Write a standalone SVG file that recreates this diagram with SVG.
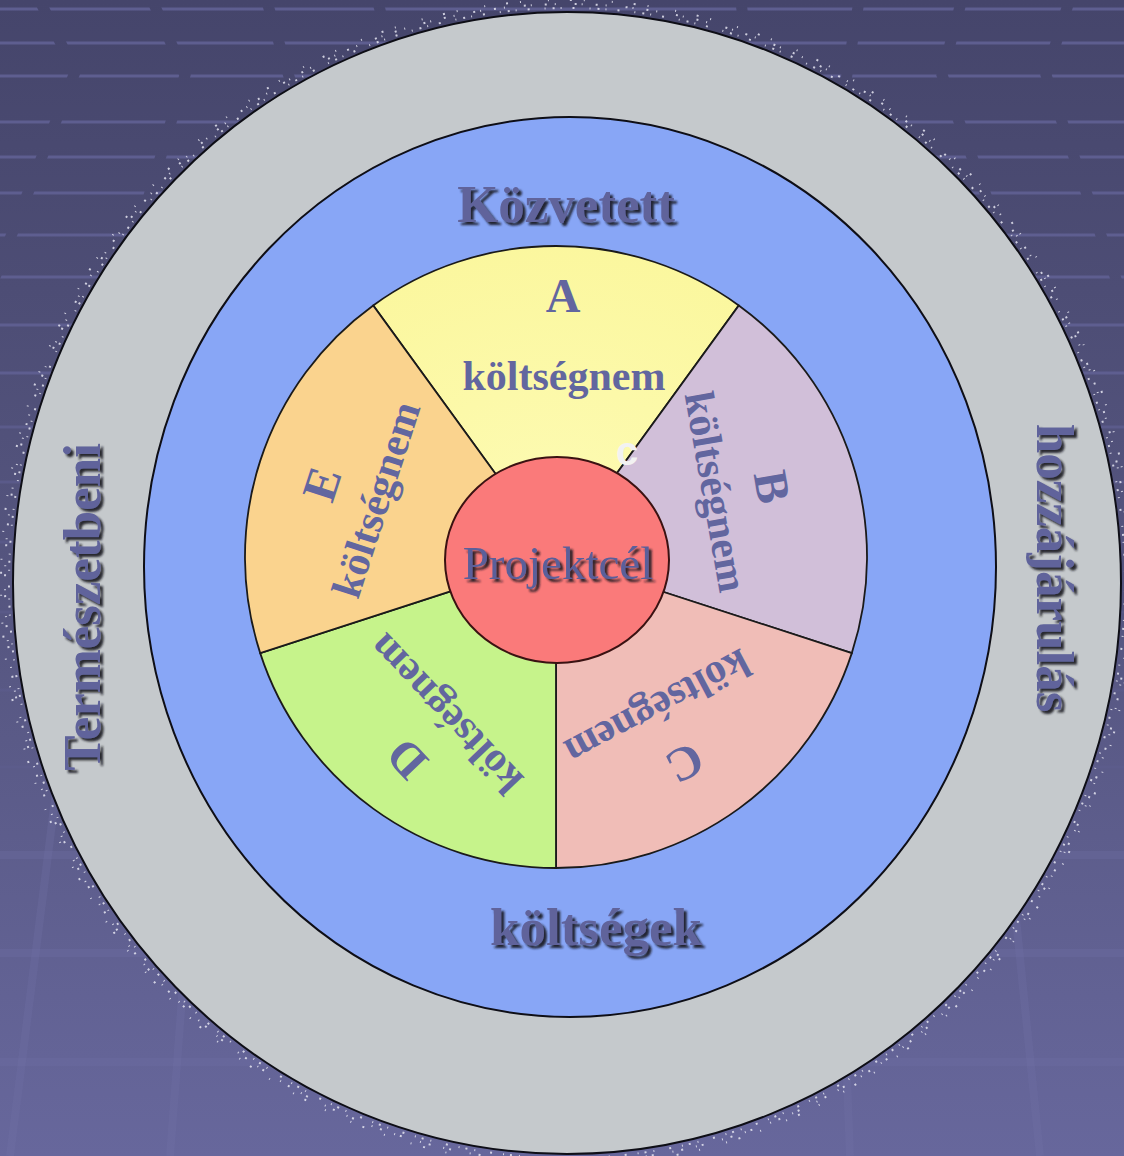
<svg xmlns="http://www.w3.org/2000/svg" width="1124" height="1156" viewBox="0 0 1124 1156">
  <defs>
    <linearGradient id="bg" gradientUnits="userSpaceOnUse" x1="0" y1="0" x2="0" y2="1156">
      <stop offset="0" stop-color="#45456b"/>
      <stop offset="0.5" stop-color="#55557f"/>
      <stop offset="1" stop-color="#67679c"/>
    </linearGradient>
    <radialGradient id="yel" cx="0.5" cy="0.9" r="0.9">
      <stop offset="0" stop-color="#fdfbb4"/>
      <stop offset="1" stop-color="#fbf79e"/>
    </radialGradient>
    <filter id="shadow" x="-10%" y="-10%" width="130%" height="130%">
      <feDropShadow dx="3" dy="3" stdDeviation="1.2" flood-color="#15151f" flood-opacity="0.9"/>
    </filter>
    <style>
      .stripe { stroke: #5e5e90; stroke-width: 3; fill: none; }
      .band { stroke: url(#bg); stroke-width: 11; fill: none; }
      .faint { stroke: #7272a6; stroke-width: 8; fill: none; opacity: 0.3; }
      .speck { fill: none; stroke: #e6e6f2; stroke-width: 2; opacity: 0.85; }
      .ring { stroke: #0e0e16; stroke-width: 2; }
      .wedge { stroke: #1a1a1a; stroke-width: 1.8; }
      .big { font-family: "Liberation Serif", "Times New Roman", serif; font-weight: bold; font-size: 53px; fill: #60649b; text-anchor: middle; }
      .lbl { font-family: "Liberation Serif", "Times New Roman", serif; font-weight: bold; font-size: 42px; fill: #62669f; text-anchor: middle; }
      .let { font-family: "Liberation Serif", "Times New Roman", serif; font-weight: bold; font-size: 48px; fill: #62669f; text-anchor: middle; }
      .proj { font-family: "Liberation Serif", "Times New Roman", serif; font-size: 47px; fill: #5a5f9a; text-anchor: middle; }
    </style>
  </defs>

  <g id="background">
    <rect x="0" y="0" width="1124" height="1156" fill="url(#bg)"/>
    <g>
      <line class="stripe" x1="0" y1="9" x2="1124" y2="9"/>
      <line class="stripe" x1="0" y1="43" x2="1124" y2="43"/>
      <line class="stripe" x1="0" y1="76" x2="1124" y2="76"/>
      <line class="stripe" x1="0" y1="122" x2="1124" y2="122"/>
      <line class="stripe" x1="0" y1="157" x2="1124" y2="157"/>
      <line class="stripe" x1="0" y1="193" x2="1124" y2="193"/>
      <line class="stripe" x1="0" y1="235" x2="1124" y2="235"/>
      <line class="stripe" x1="0" y1="277" x2="1124" y2="277"/>
      <line class="stripe" x1="0" y1="325" x2="1124" y2="325"/>
      <line class="stripe" x1="0" y1="373" x2="1124" y2="373"/>
      <line class="stripe" x1="0" y1="427" x2="1124" y2="427" opacity="0.8"/>
      <line class="stripe" x1="0" y1="482" x2="1124" y2="482" opacity="0.7"/>
      <line class="stripe" x1="0" y1="542" x2="1124" y2="542" opacity="0.6"/>
      <line class="stripe" x1="0" y1="612" x2="1124" y2="612" opacity="0.5"/>
      <line class="stripe" x1="0" y1="690" x2="1124" y2="690" opacity="0.45"/>
      <line class="stripe" x1="0" y1="767" x2="1124" y2="767" opacity="0.4"/>
      <line class="faint" x1="0" y1="855" x2="1124" y2="855"/>
      <line class="faint" x1="0" y1="953" x2="1124" y2="953"/>
      <line class="faint" x1="0" y1="1062" x2="1124" y2="1062"/>
    </g>
    <g>
      <polyline class="band" points="37,-5 75,72 -10,290"/>
      <polyline class="band" points="150,-5 185,75 100,360"/>
      <polyline class="band" points="265,-5 290,80 250,200"/>
      <polyline class="band" points="376,-5 388,40"/>
      <polyline class="band" points="740,-5 746,40"/>
      <polyline class="band" points="860,-5 846,80 880,200"/>
      <polyline class="band" points="963,-5 942,75 1090,480"/>
      <polyline class="band" points="1071,-5 1046,75 1130,320"/>
      <line class="faint" x1="60" y1="760" x2="10" y2="1156"/>
      <line class="faint" x1="200" y1="760" x2="170" y2="1156"/>
      <line class="faint" x1="840" y1="900" x2="850" y2="1156"/>
      <line class="faint" x1="1000" y1="760" x2="1040" y2="1156"/>
    </g>
  </g>

  <g id="outer-ring">
    <ellipse class="speck" cx="567" cy="583" rx="558" ry="575" stroke-dasharray="2 6 1 11 2 15 1 7"/>
    <ellipse class="speck" cx="567" cy="583" rx="562" ry="579" stroke-dasharray="1 13 2 8 1 19 2 5"/>
    <ellipse class="speck" cx="567" cy="583" rx="566" ry="583" stroke-dasharray="1 21 2 12 1 27"/>
    <ellipse class="ring" cx="567" cy="583" rx="554" ry="571" fill="#c5c9cc"/>
  </g>

  <g id="blue-ring">
    <ellipse class="ring" cx="570" cy="567" rx="426" ry="450" fill="#88a6f6"/>
  </g>

  <g id="wedge-A">
    <path class="wedge" d="M556,557 L373.2,305.4 A311,311 0 0 1 738.8,305.4 Z" fill="url(#yel)"/>
    <text class="let" x="563" y="312">A</text>
    <text class="lbl" x="564" y="390">költségnem</text>
  </g>
  <g id="wedge-B">
    <path class="wedge" d="M556,557 L738.8,305.4 A311,311 0 0 1 851.8,653.1 Z" fill="#d1bfd9"/>
    <text class="lbl" transform="translate(714,492) rotate(80)" x="0" y="12">költségnem</text>
    <text class="let" transform="translate(772,487) rotate(80)" x="0" y="16">B</text>
  </g>
  <g id="wedge-C">
    <path class="wedge" d="M556,557 L851.8,653.1 A311,311 0 0 1 556,868 Z" fill="#f0bdb7"/>
    <text class="lbl" transform="translate(657,706) rotate(152)" x="0" y="12">költségnem</text>
    <text class="let" transform="translate(685,763) rotate(152)" x="0" y="16">C</text>
  </g>
  <g id="wedge-D">
    <path class="wedge" d="M556,557 L556,868 A311,311 0 0 1 260.2,653.1 Z" fill="#c6f38b"/>
    <text class="lbl" transform="translate(447,713) rotate(226.5)" x="0" y="12">költségnem</text>
    <text class="let" transform="translate(407,759) rotate(226.5)" x="0" y="16">D</text>
  </g>
  <g id="wedge-E">
    <path class="wedge" d="M556,557 L260.2,653.1 A311,311 0 0 1 373.2,305.4 Z" fill="#fad38e"/>
    <text class="lbl" transform="translate(378,500) rotate(-72)" x="0" y="12">költségnem</text>
    <text class="let" transform="translate(322,484) rotate(-72)" x="0" y="16">E</text>
  </g>

  <g id="artifact">
    <text x="627" y="465" font-family="Liberation Sans, Arial, sans-serif" font-weight="bold" font-size="40" fill="#f2f2f2" text-anchor="middle">c</text>
  </g>

  <g id="center">
    <ellipse cx="557" cy="560" rx="112" ry="103" fill="#fa7a7a" stroke="#3a1212" stroke-width="2"/>
    <g filter="url(#shadow)">
      <text class="proj" x="558" y="579">Projektcél</text>
    </g>
  </g>

  <g id="outer-labels" filter="url(#shadow)">
    <text class="big" x="566" y="222">Közvetett</text>
    <text class="big" x="596" y="945">költségek</text>
    <text class="big" transform="translate(100,607) rotate(-90)" x="0" y="0">Természetbeni</text>
    <text class="big" transform="translate(1037,568) rotate(90)" x="0" y="0">hozzájárulás</text>
  </g>
</svg>
